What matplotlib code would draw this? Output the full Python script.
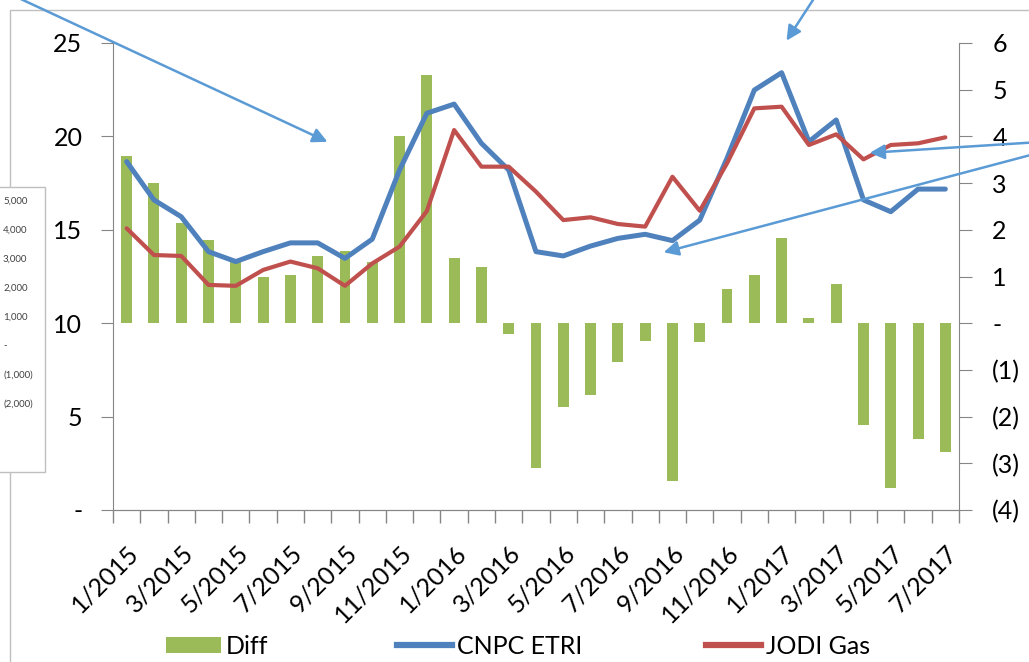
import matplotlib.pyplot as plt
import numpy as np
from matplotlib.patches import Rectangle, Patch, FancyArrowPatch
from matplotlib.lines import Line2D

plt.rcParams['font.family'] = ['Lato', 'DejaVu Sans']

# monthly, 1/2015 .. 7/2017
months = ['%d/%d' % (m, y) for y in (2015, 2016, 2017) for m in range(1, 13)][:31]

cnpc_etri = [18.65, 16.6, 15.7, 13.83, 13.3, 13.83, 14.3, 14.3, 13.47, 14.5,
             18.2, 21.24, 21.73, 19.63, 18.2, 13.83, 13.6, 14.13, 14.54, 14.76,
             14.42, 15.52, 18.83, 22.48, 23.41, 19.72, 20.88, 16.6, 15.97, 17.18,
             17.18]
jodi_gas = [15.08, 13.65, 13.6, 12.05, 12.0, 12.85, 13.3, 12.94, 12.0, 13.2,
            14.1, 16.0, 20.34, 18.38, 18.38, 17.04, 15.52, 15.67, 15.31, 15.17,
            17.84, 16.02, 18.56, 21.5, 21.59, 19.54, 20.11, 18.77, 19.54, 19.63,
            19.95]
diff = [3.58, 3.0, 2.15, 1.78, 1.3, 0.98, 1.03, 1.43, 1.55, 1.31,
        4.0, 5.31, 1.4, 1.2, -0.24, -3.1, -1.8, -1.53, -0.84, -0.38,
        -3.38, -0.41, 0.74, 1.03, 1.83, 0.12, 0.83, -2.18, -3.53, -2.47,
        -2.76]

left_ticks = [0, 5, 10, 15, 20, 25]
left_labels = ['-', '5', '10', '15', '20', '25']
right_ticks = [-4, -3, -2, -1, 0, 1, 2, 3, 4, 5, 6]
right_labels = ['(4)', '(3)', '(2)', '(1)', '-', '1', '2', '3', '4', '5', '6']
box_labels = ['5,000', '4,000', '3,000', '2,000', '1,000', '-', '(1,000)', '(2,000)']

GREEN = '#9BBB59'
BLUE = '#4F81BD'
RED = '#C0504D'
ARROW = '#5B9BD5'
GREY = '#868686'

W, H = 1029, 662
fig = plt.figure(figsize=(W / 100, H / 100), dpi=100)
ax = fig.add_axes([113 / W, 1 - 510 / H, (959 - 113) / W, (510 - 43) / H])
ax2 = ax.twinx()

x = np.arange(len(months))
ax2.bar(x, diff, width=0.4, color=GREEN)
ax.plot(x, cnpc_etri, color=BLUE, lw=3.6, solid_joinstyle='round', solid_capstyle='round')
ax.plot(x, jodi_gas, color=RED, lw=3.0, solid_joinstyle='round', solid_capstyle='round')
ax.set_zorder(ax2.get_zorder() + 1)
ax.patch.set_visible(False)

ax.set_xlim(-0.5, len(months) - 0.5)
ax.set_ylim(0, 25)
ax2.set_ylim(-4, 6)

ax.set_yticks(left_ticks)
ax.set_yticklabels(left_labels, fontsize=18)
ax2.set_yticks(right_ticks)
ax2.set_yticklabels(right_labels, fontsize=18)

ax.set_xticks(x[::2])
ax.set_xticklabels(months[::2], rotation=45, ha='right', rotation_mode='anchor', fontsize=18)
ax.set_xticks(np.arange(-0.5, len(months)), minor=True)
ax.tick_params(axis='x', which='major', length=0, pad=22)
ax.tick_params(axis='x', which='minor', length=9, color=GREY, width=1)
ax.tick_params(axis='y', length=9, color=GREY, pad=13)
ax2.tick_params(axis='y', length=9, color=GREY, pad=15)

for a in (ax, ax2):
    a.spines['top'].set_visible(False)
    for s in ('left', 'right', 'bottom'):
        a.spines[s].set_color(GREY)
ax.spines['right'].set_visible(False)
ax2.spines['left'].set_visible(False)

# chart frame
fig.patches.append(Rectangle((10 / W, -0.1), 1.2, 1 - 10 / H + 0.1, transform=fig.transFigure,
                             fill=False, edgecolor='#BFBFBF', lw=1, zorder=0))

# overlaid box with another axis
fig.patches.append(Rectangle((-2 / W, 1 - 472 / H), 47 / W, 285 / H, transform=fig.transFigure,
                             facecolor='white', edgecolor='#BFBFBF', lw=1, zorder=5))
for i, lab in enumerate(box_labels):
    fig.text(3 / W, 1 - (201 + 29 * i) / H, lab, fontsize=7, va='center', ha='left',
             color='#404040', zorder=6)

# legend: one entry per slot
entries = [(Patch(facecolor=GREEN), 'Diff', 166),
           (Line2D([], [], color=BLUE, lw=4.5), 'CNPC ETRI', 397),
           (Line2D([], [], color=RED, lw=4.5), 'JODI Gas', 706)]
for handle, label, x0 in entries:
    fig.legend([handle], [label], frameon=False, loc='center left',
               bbox_to_anchor=(x0 / W, 1 - 646 / H), fontsize=18, borderpad=0,
               borderaxespad=0, handlelength=2.2, handleheight=0.6, handletextpad=0.2)

# arrows (figure pixels, origin bottom-left)
arrows = [((-5, -13), (330, 143)), ((826, -20), (785, 43)),
          ((1040, 142), (867, 153)), ((1040, 152.5), (661, 253))]
for (x0, y0), (x1, y1) in arrows:
    fig.add_artist(FancyArrowPatch((x0, H - y0), (x1, H - y1), transform=None,
                                   arrowstyle='-|>', mutation_scale=22, color=ARROW,
                                   lw=1.8, zorder=10))

fig.savefig('out.png', dpi=100)
